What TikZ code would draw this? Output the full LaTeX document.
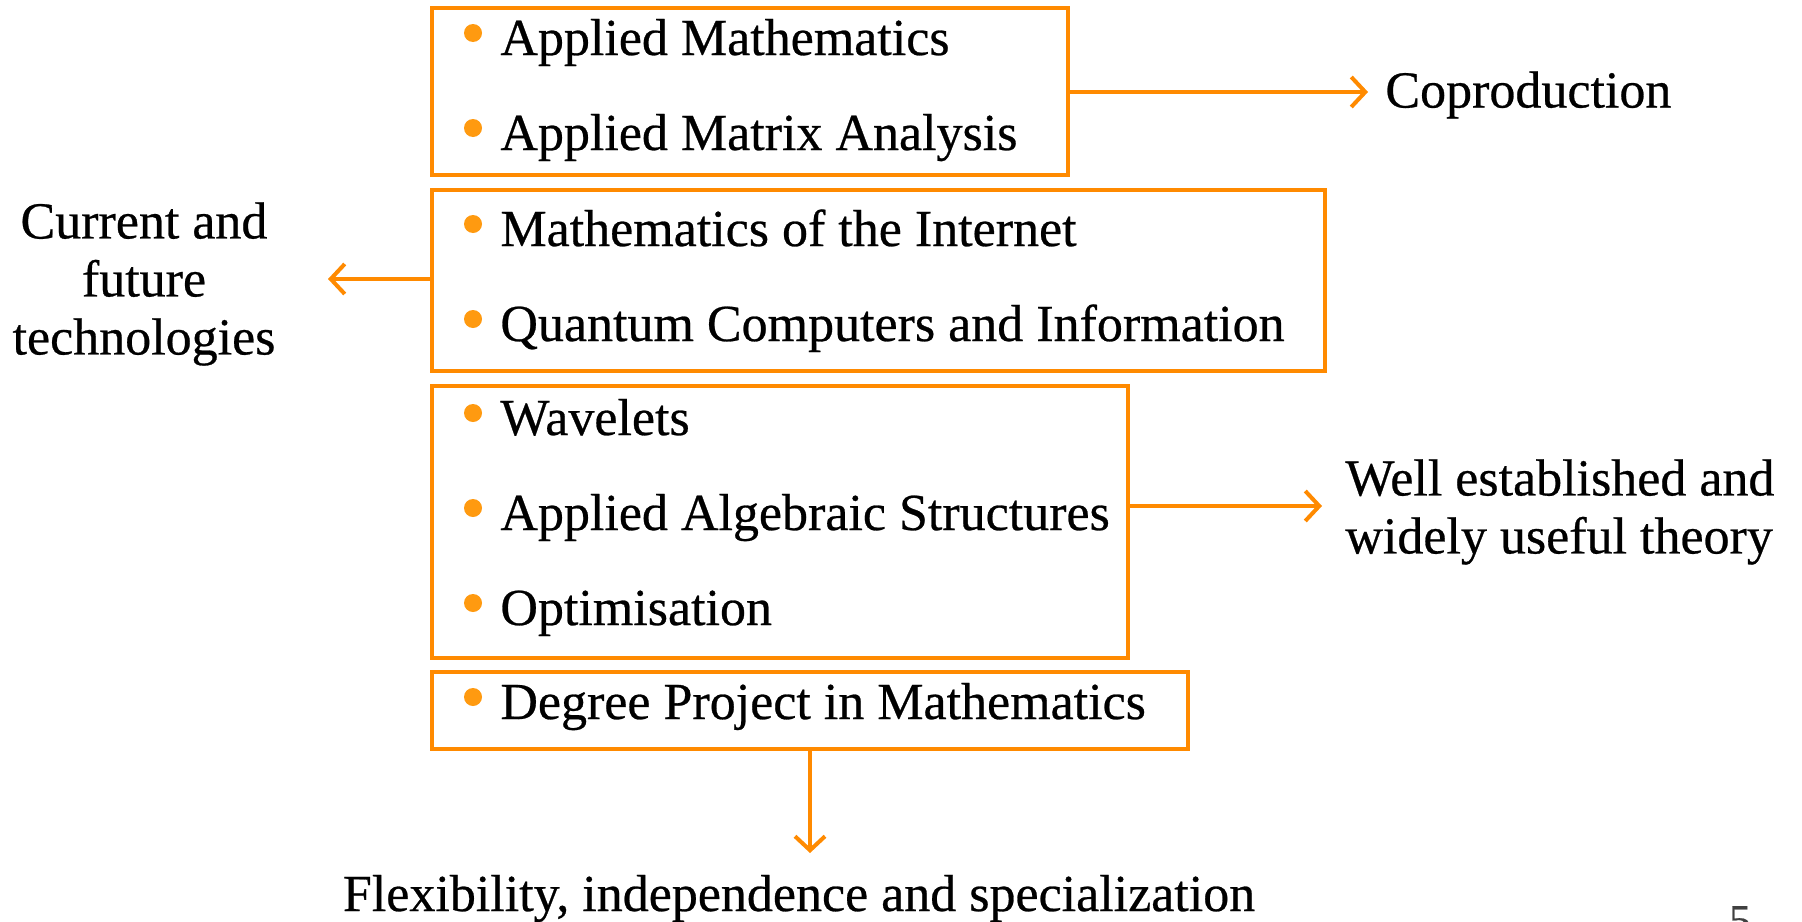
\documentclass[tikz,border=0pt]{standalone}
\usepackage{fontspec}
\setmainfont{Liberation Serif}[FakeBold=0.5]
\usetikzlibrary{fit,arrows.meta}
\definecolor{boxorange}{HTML}{FF8A00}
\definecolor{bulorange}{HTML}{FF9A10}
\tikzset{
  box/.style={draw=boxorange, line width=2pt, inner sep=0pt, rectangle},
  item/.style={anchor=base west, inner sep=0pt, font=\fontsize{26}{30}\selectfont},
  lbl/.style={inner sep=0pt, font=\fontsize{26}{30}\selectfont},
  bul/.style={circle, fill=bulorange, minimum size=9pt, inner sep=0pt},
  conn/.style={draw=boxorange, line width=2pt, -{Straight Barb[length=7pt,width=15pt,line width=2pt]}},
}
\begin{document}
\begin{tikzpicture}[x=0.5pt,y=-0.5pt]
\useasboundingbox[fill=white] (0,0) rectangle (1802,921);
% boxes
\node[box, fit={(432,8) (1068,175)}] (b1) {};
\node[box, fit={(432,190) (1325,371)}] (b2) {};
\node[box, fit={(432,386) (1128,658)}] (b3) {};
\node[box, fit={(432,672) (1188,749)}] (b4) {};
% items
\foreach \n/\y/\t in {i1/55/Applied Mathematics, i2/150/Applied Matrix Analysis,
  i3/246/Mathematics of the Internet, i4/341/Quantum Computers and Information,
  i5/435/Wavelets, i6/530/Applied Algebraic Structures, i7/625/Optimisation,
  i8/719/Degree Project in Mathematics}{
  \node[item] (\n) at (500,\y) {\t};
  \node[bul] (\n b) at (473,\y-22) {};
}
% outside labels
\node[lbl, anchor=west] (cop) at (1385,95) {Coproduction};
\node[lbl, align=center] (cur) at (144,284) {Current and\\[-1pt]future\\[-1pt]technologies};
\node[lbl, align=left, anchor=west] (well) at (1345,512) {Well established and\\[-1pt]widely useful theory};
\node[lbl, anchor=base] (flex) at (799,911) {Flexibility, independence and specialization};
\node[inner sep=0pt, text=black!75, font=\fontsize{22}{26}\selectfont, anchor=base] (pg) at (1740,935) {5};
% connectors
\coordinate (c1) at (1368,92);
\coordinate (c2) at (328,279);
\coordinate (c3) at (1322,506);
\coordinate (c4) at (810,853);
\draw[conn] (b1.east |- c1) -- (c1);
\draw[conn] (b2.west |- c2) -- (c2);
\draw[conn] (b3.east |- c3) -- (c3);
\draw[conn] (b4.south -| c4) -- (c4);
\end{tikzpicture}
\end{document}
